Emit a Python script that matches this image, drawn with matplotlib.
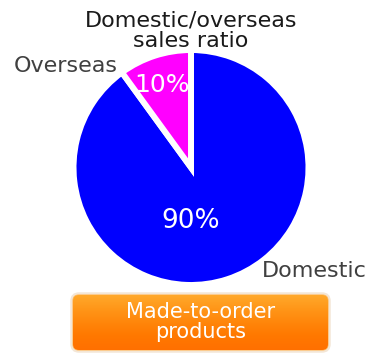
import matplotlib
matplotlib.use("Agg")
import matplotlib.pyplot as plt
import numpy as np
from matplotlib.patches import FancyBboxPatch

# data
categories = ["Domestic", "Overseas"]
shares = [90, 10]
colors = ["#0000ff", "#ff00ff"]
title = "Domestic/overseas\nsales ratio"
button_text = "Made-to-order\nproducts"

W, H = 376, 354
fig = plt.figure(figsize=(W / 100, H / 100), dpi=100)
ax = fig.add_axes([0, 0, 1, 1])

ax.pie(shares, colors=colors, startangle=90, counterclock=False,
       center=(191, H - 167.5), radius=117.5,
       wedgeprops=dict(edgecolor="white", linewidth=4.3))
ax.set_xlim(0, W)
ax.set_ylim(0, H)
ax.set_aspect("equal")
ax.axis("off")

font = "DejaVu Sans"
# multi-line text with va="baseline" aligns on the last line
ax.text(191, H - 47, title, ha="center", va="baseline", fontsize=16,
        color="#1a1a1a", family=font, linespacing=1.05)

# category labels
ax.text(14, H - 72, categories[1], ha="left", va="baseline", fontsize=16,
        color="#404040", family=font)
ax.text(262, H - 277, categories[0], ha="left", va="baseline", fontsize=16,
        color="#404040", family=font)

# percentage labels
ax.text(191, H - 228, f"{shares[0]}%", ha="center", va="baseline",
        fontsize=19, color="white", family=font)
ax.text(162, H - 92, f"{shares[1]}%", ha="center", va="baseline",
        fontsize=18, color="white", family=font)

# orange button with soft shadow
bx0, bx1, by0, by1 = 73, 328, H - 350, H - 295
shadow = FancyBboxPatch((bx0 - 1, by0 - 1), bx1 - bx0 + 2, by1 - by0 + 2,
                        boxstyle="round,pad=0,rounding_size=7",
                        facecolor="none", edgecolor="#f3e6d6", linewidth=2.5,
                        zorder=0.5)
ax.add_patch(shadow)
box = FancyBboxPatch((bx0, by0), bx1 - bx0, by1 - by0,
                     boxstyle="round,pad=0,rounding_size=6",
                     facecolor="none", edgecolor="#ffc070", linewidth=1.0)
ax.add_patch(box)
grad = np.linspace(0, 1, 64).reshape(-1, 1)
cmap = matplotlib.colors.LinearSegmentedColormap.from_list(
    "btn", ["#ffa82a", "#ff9618", "#ff860a", "#ff7800", "#ff7000"])
im = ax.imshow(grad, extent=(bx0, bx1, by0, by1), cmap=cmap,
               aspect="auto", origin="upper", zorder=1)
im.set_clip_path(box)
ax.text((bx0 + bx1) / 2, H - 338, button_text, ha="center",
        va="baseline", fontsize=15, color="white", family=font,
        linespacing=1.0, zorder=3)

ax.set_xlim(0, W)
ax.set_ylim(0, H)
fig.savefig("out.png", dpi=100)
